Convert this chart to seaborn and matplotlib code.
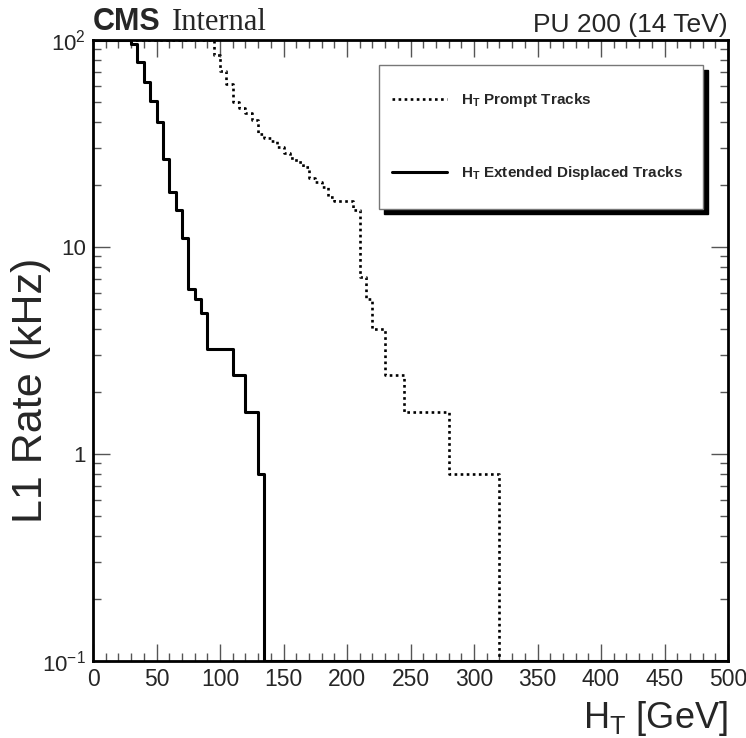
import numpy as np
import pandas as pd
import matplotlib
matplotlib.use('Agg')
import matplotlib.pyplot as plt
import seaborn as sns
from matplotlib.ticker import MultipleLocator, LogLocator, FixedLocator, FixedFormatter, NullFormatter
from matplotlib.patches import Rectangle

# ---- data ----
ht_prompt = [0, 95, 100, 105, 110, 115, 120, 125, 130, 135, 140, 145, 150, 155, 160,
             165, 170, 175, 180, 185, 190, 205, 210, 215, 220, 230, 245, 280, 320, 500]
rate_prompt = [100, 85, 71, 61, 50, 47, 44.5, 41, 35, 33.5, 32.5, 30.5, 28.5, 27, 25.7,
               24.4, 21.5, 20.5, 19.5, 17.5, 16.7, 15.1, 7.2, 5.6, 4.0, 2.4, 1.6, 0.8, 0.1, 0.1]
ht_disp = [0, 30, 35, 40, 45, 50, 55, 60, 65, 70, 75, 80, 85, 90, 110, 120, 130, 135, 500]
rate_disp = [100, 96, 78, 63, 51, 40, 26.5, 18.4, 15.1, 11.1, 6.3, 5.6, 4.8, 3.2, 2.4,
             1.6, 0.8, 0.1, 0.1]
label_prompt = r'$\mathbf{H_T}$ Prompt Tracks'
label_disp = r'$\mathbf{H_T}$ Extended Displaced Tracks'
ytick_vals = [0.1, 1, 10, 100]
ytick_labels = [r'$10^{-1}$', '1', '10', r'$10^{2}$']

sns.set_style('ticks')
plt.rcParams['font.family'] = ['Liberation Sans', 'DejaVu Sans']
plt.rcParams['mathtext.fontset'] = 'custom'
plt.rcParams['mathtext.rm'] = 'Liberation Sans'
plt.rcParams['mathtext.it'] = 'Liberation Sans:italic'
plt.rcParams['mathtext.bf'] = 'Liberation Sans:bold'
plt.rcParams['mathtext.default'] = 'regular'

fig = plt.figure(figsize=(7.46, 7.38), dpi=100)
ax = fig.add_axes([93/746, 77/738, 635/746, 621/738])

df_p = pd.DataFrame({'HT': ht_prompt, 'rate': rate_prompt})
df_d = pd.DataFrame({'HT': ht_disp, 'rate': rate_disp})

sns.lineplot(data=df_p, x='HT', y='rate', ax=ax, drawstyle='steps-post', color='black',
             linewidth=1.9, linestyle=(0, (1, 1.3)), estimator=None, label=label_prompt)
sns.lineplot(data=df_d, x='HT', y='rate', ax=ax, drawstyle='steps-post', color='black',
             linewidth=2.2, estimator=None, label=label_disp)

ax.set_yscale('log')
ax.set_xlim(0, 500)
ax.set_ylim(0.1, 100)

ax.xaxis.set_major_locator(MultipleLocator(50))
ax.xaxis.set_minor_locator(MultipleLocator(10))
ax.yaxis.set_major_locator(FixedLocator(ytick_vals))
ax.yaxis.set_major_formatter(FixedFormatter(ytick_labels))
ax.yaxis.set_minor_locator(LogLocator(base=10, subs=np.arange(2, 10)))
ax.yaxis.set_minor_formatter(NullFormatter())

ax.tick_params(which='both', direction='in', top=True, right=True, color='#555555', width=1)
ax.tick_params(which='major', length=12.5)
ax.tick_params(which='minor', length=6)
ax.tick_params(axis='x', which='major', labelsize=16.5, pad=5)
ax.tick_params(axis='y', which='major', labelsize=16, pad=5)
for s in ax.spines.values():
    s.set_linewidth(2)
    s.set_color('black')

ax.set_xlabel(r'H$_T$ [GeV]', fontsize=26, loc='right', labelpad=6)
ax.set_ylabel('L1 Rate (kHz)', fontsize=31)
ax.yaxis.set_label_coords(-0.066, 0.436)

# legend frame + shadow
lx0, lx1 = (379 - 93) / 635, (703 - 93) / 635
ly0, ly1 = (661 - 209) / 621, (661 - 65) / 621
shadow = Rectangle((lx0 + 5 / 635, ly0 - 5 / 621), lx1 - lx0, ly1 - ly0, transform=ax.transAxes,
                   facecolor='black', edgecolor='black', zorder=5, clip_on=False)
frame = Rectangle((lx0, ly0), lx1 - lx0, ly1 - ly0, transform=ax.transAxes,
                  facecolor='white', edgecolor='#777777', linewidth=1, zorder=6, clip_on=False)
ax.add_patch(shadow)
ax.add_patch(frame)
leg = ax.legend(loc='center left', bbox_to_anchor=((392 - 93) / 635, (661 - 136.5) / 621),
                frameon=False, borderpad=0, borderaxespad=0, handlelength=3.6,
                handletextpad=0.9, labelspacing=3.6, prop={'size': 11, 'weight': 'bold'})
leg.set_zorder(7)

fig.text(93/746, 708/738, 'CMS', fontsize=22, fontweight='bold', ha='left', va='baseline')
fig.text(172/746, 708/738, 'Internal', fontsize=22, family='Liberation Serif', ha='left', va='baseline')
fig.text(728/746, 706/738, 'PU 200 (14 TeV)', fontsize=19, ha='right', va='baseline')

fig.savefig('out.png', dpi=100)
